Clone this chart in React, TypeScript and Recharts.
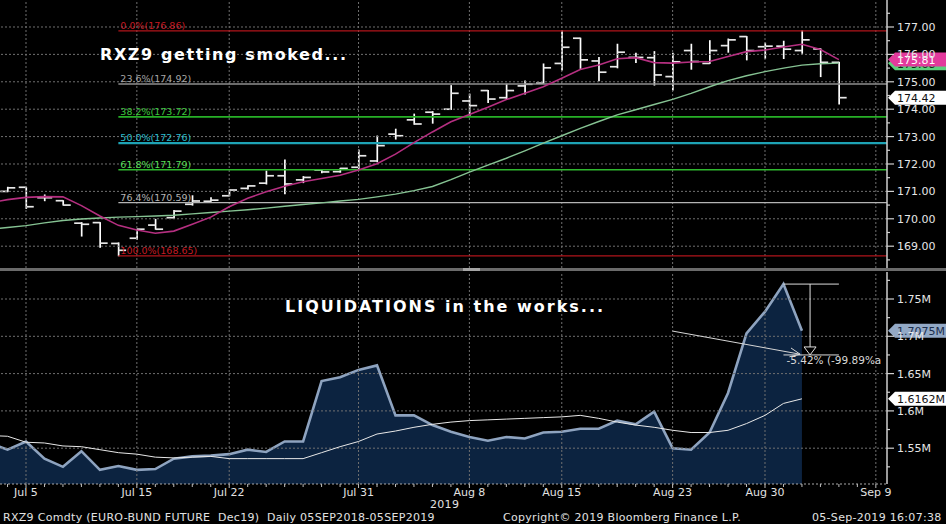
import React from 'react';
import { ComposedChart, Bar, Line, Area, XAxis, YAxis, ReferenceLine } from 'recharts';

// ---------- data ----------
const dates = [
  'Jul 3', 'Jul 4', 'Jul 5',
  'Jul 8', 'Jul 9', 'Jul 10', 'Jul 11', 'Jul 12',
  'Jul 15', 'Jul 16', 'Jul 17', 'Jul 18', 'Jul 19',
  'Jul 22', 'Jul 23', 'Jul 24', 'Jul 25', 'Jul 26',
  'Jul 29', 'Jul 30', 'Jul 31', 'Aug 1', 'Aug 2',
  'Aug 5', 'Aug 6', 'Aug 7', 'Aug 8', 'Aug 9',
  'Aug 12', 'Aug 13', 'Aug 14', 'Aug 15', 'Aug 16',
  'Aug 19', 'Aug 20', 'Aug 21', 'Aug 22', 'Aug 23',
  'Aug 26', 'Aug 27', 'Aug 28', 'Aug 29', 'Aug 30',
  'Sep 2', 'Sep 3', 'Sep 4', 'Sep 5', 'Sep 6',
  'Sep 9',
];

const openPx = [
  null, 171.00, 171.15,
  170.77, 170.66, 169.84, 169.86, 169.10,
  169.29, 169.77, 170.04, 170.53, 170.64,
  170.84, 171.11, 171.30, 171.57, 171.42,
  171.78, 171.72, 171.88, 172.11, 173.09,
  173.61, 173.89, 174.00, 174.30, 174.68,
  174.42, 174.85, 174.95, 175.67, 176.59,
  175.76, 175.55, 175.89, 175.88, 175.19,
  176.14, 175.67, 176.32, 176.65, 176.28,
  176.30, 176.14, 176.20, 175.71, null,
  null,
];
const highPx = [
  null, 171.15, 171.15,
  170.87, 170.66, 169.86, 169.86, 169.12,
  169.62, 169.98, 170.30, 170.84, 170.77,
  171.05, 171.21, 171.74, 172.15, 171.54,
  171.80, 171.84, 172.51, 173.02, 173.27,
  173.82, 173.91, 174.86, 174.55, 174.68,
  174.91, 175.03, 175.65, 176.86, 176.59,
  175.89, 176.37, 176.04, 176.10, 176.04,
  176.37, 176.50, 176.56, 176.65, 176.41,
  176.48, 176.86, 176.20, 175.71, null,
  null,
];
const lowPx = [
  null, 170.99, 170.38,
  170.66, 170.50, 169.37, 168.96, 168.65,
  169.25, 169.62, 170.02, 170.50, 170.64,
  170.84, 171.09, 171.27, 170.91, 171.32,
  171.68, 171.70, 171.84, 172.08, 172.91,
  173.45, 173.49, 173.99, 173.75, 174.24,
  174.37, 174.55, 174.95, 175.43, 175.49,
  175.04, 175.51, 175.70, 174.88, 174.70,
  175.46, 175.67, 176.08, 175.80, 175.86,
  175.85, 176.04, 175.19, 174.19, null,
  null,
];
const closePx = [
  null, 171.13, 170.44,
  170.77, 170.50, 169.80, 169.11, 168.85,
  169.62, 169.62, 170.28, 170.65, 170.68,
  171.05, 171.20, 171.57, 171.27, 171.51,
  171.71, 171.84, 172.30, 172.67, 173.03,
  173.46, 173.82, 174.58, 174.13, 174.37,
  174.68, 174.91, 175.51, 176.26, 175.80,
  175.35, 176.08, 175.89, 175.25, 175.73,
  175.74, 176.14, 176.53, 176.14, 176.30,
  176.19, 176.53, 175.71, 174.42, null,
  null,
];
const maFast = [
  170.58, 170.70, 170.78,
  170.81, 170.80, 170.48, 170.10, 169.76,
  169.59, 169.47, 169.55, 169.80, 170.06,
  170.44, 170.75, 170.99, 171.19, 171.35,
  171.47, 171.59, 171.78, 172.01, 172.36,
  172.78, 173.17, 173.54, 173.81, 174.07,
  174.35, 174.58, 174.82, 175.13, 175.45,
  175.61, 175.84, 175.88, 175.70, 175.68,
  175.72, 175.74, 175.92, 176.10, 176.16,
  176.27, 176.37, 176.18, 175.81, null,
  null,
];
const maSlow = [
  169.62, 169.68, 169.75,
  169.85, 169.94, 169.99, 170.03, 170.06,
  170.08, 170.10, 170.13, 170.18, 170.23,
  170.28, 170.33, 170.39, 170.46, 170.52,
  170.58, 170.65, 170.71, 170.80, 170.90,
  171.03, 171.18, 171.43, 171.70, 171.96,
  172.21, 172.48, 172.76, 173.03, 173.30,
  173.55, 173.79, 173.98, 174.17, 174.36,
  174.58, 174.82, 175.04, 175.22, 175.37,
  175.50, 175.61, 175.66, 175.68, null,
  null,
];
// open interest, millions
const openInt = [
  1.557, 1.548, 1.559,
  1.536, 1.525, 1.546, 1.521, 1.526,
  1.521, 1.522, 1.536, 1.539, 1.540,
  1.542, 1.548, 1.545, 1.559, 1.559,
  1.640, 1.645, 1.655, 1.661, 1.594,
  1.594, 1.581, 1.572, 1.565, 1.560,
  1.565, 1.563, 1.571, 1.572, 1.576,
  1.576, 1.587, 1.582, 1.599, 1.550,
  1.548, 1.571, 1.624, 1.704, 1.733,
  1.770, 1.7075, null, null, null,
  null,
];
const openIntAvg = [
  1.567, 1.566, 1.558,
  1.557, 1.553, 1.552, 1.548, 1.544,
  1.542, 1.538, 1.537, 1.538, 1.539,
  1.536, 1.536, 1.536, 1.536, 1.536,
  1.544, 1.552, 1.559, 1.569, 1.573,
  1.578, 1.582, 1.585, 1.587, 1.588,
  1.589, 1.590, 1.591, 1.592, 1.594,
  1.590, 1.585, 1.581, 1.578, 1.574,
  1.571, 1.571, 1.574, 1.583, 1.594,
  1.610, 1.6162, null, null, null,
  null,
];

const xTickLabels = ['Jul 5', 'Jul 15', 'Jul 22', 'Jul 31', 'Aug 8', 'Aug 15', 'Aug 23', 'Aug 30', 'Sep 9'];
const priceTicks = [168.5, 169, 169.5, 170, 170.5, 171, 171.5, 172, 172.5, 173, 173.5, 174, 174.5, 175, 175.5, 176, 176.5, 177, 177.5];
const priceGrid = [169, 170, 171, 172, 173, 174, 175, 176, 177];
const oiTicks = [1.525, 1.55, 1.575, 1.6, 1.625, 1.65, 1.675, 1.7, 1.725, 1.75, 1.775];
const oiGrid = [1.55, 1.6, 1.65, 1.7, 1.75];

const fibNames = ['0.0%', '23.6%', '38.2%', '50.0%', '61.8%', '76.4%', '100.0%'];
const fibValues = [176.86, 174.92, 173.72, 172.76, 171.79, 170.59, 168.65];
const fibStartDate = 'Jul 12';

// measured move annotation (open interest panel)
const moveFromDate = 'Sep 2';
const moveToDate = 'Sep 5';
const moveHigh = 1.770;
const moveLow = 1.675;
const moveMarkX = 44.44;
const moveText = '-5.42% (-99.89%a';
const trendStart = { date: 'Aug 23', v: 1.707 };
const trendEnd = { x: 43.9, v: 1.676 };

// ---------- styles ----------
const FONT = '"DejaVu Sans", Verdana, sans-serif';
const X_DOMAIN: [number, number] = [0.593, 48.604];
const PRICE_DOMAIN: [number, number] = [168.204, 177.985];
const OI_DOMAIN: [number, number] = [1.502, 1.7862];
const FIB_STYLE = [
  { line: '#b0151b', text: '#c41a22', w: 1.3 },
  { line: '#8e8e8e', text: '#a6a6a6', w: 1.3 },
  { line: '#27b027', text: '#3cc53c', w: 1.6 },
  { line: '#1ea3b5', text: '#2bbccc', w: 2.2 },
  { line: '#2fb82f', text: '#55dd55', w: 1.6 },
  { line: '#b4b4b4', text: '#b4b4b4', w: 1.3 },
  { line: '#b0151b', text: '#c41a22', w: 1.3 },
];
const GRID = { stroke: '#707070', strokeDasharray: '2 2', strokeWidth: 1 };
const FOOT = { color: '#e2e2e2', fontSize: 11, lineHeight: '13px', whiteSpace: 'pre' as const, letterSpacing: '0.3px' };

// ---------- rows ----------
const priceRows = dates.map((d, i) => ({
  x: i,
  date: d,
  open: openPx[i],
  high: highPx[i],
  low: lowPx[i],
  close: closePx[i],
  range: highPx[i] != null && lowPx[i] != null ? [lowPx[i], highPx[i]] : null,
  maFast: maFast[i],
  maSlow: maSlow[i],
}));
const oiRows = dates.map((d, i) => ({ x: i, date: d, oi: openInt[i], oiAvg: openIntAvg[i] }));
const xTicks = dates.map((_, i) => i).filter((i) => i >= 1);
const gridX = xTickLabels.map((l) => dates.indexOf(l));
const lastOf = (arr: (number | null)[]) => {
  for (let i = arr.length - 1; i >= 0; i--) if (arr[i] != null) return arr[i] as number;
  return 0;
};

// ---------- shapes ----------
const OhlcShape = (props: any) => {
  const { x, y, width, height, payload } = props;
  if (!payload || payload.high == null || payload.low == null) return null;
  const cx = x + width / 2;
  const top = Math.min(y, y + height);
  const h = Math.abs(height);
  const span = payload.high - payload.low;
  const py = (v: number) => (span > 0 ? top + ((payload.high - v) / span) * h : top);
  const yo = py(payload.open);
  const yc = py(payload.close);
  return (
    <g>
      <line x1={cx} x2={cx} y1={top - 0.5} y2={top + h + 0.5} stroke="#ffffff" strokeWidth={1.7} />
      <line x1={cx - 7.5} x2={cx} y1={yo} y2={yo} stroke="#e8e8e8" strokeWidth={1.7} />
      <line x1={cx} x2={cx + 7.5} y1={yc} y2={yc} stroke="#e8e8e8" strokeWidth={1.7} />
    </g>
  );
};

const PriceTick = (props: any) => {
  const { x, y, payload } = props;
  const v = Number(payload?.value);
  const major = Math.abs(v - Math.round(v)) < 1e-6;
  return (
    <g>
      <line x1={x} x2={x + (major ? 7 : 3)} y1={y} y2={y} stroke="#d0d0d0" strokeWidth={1.2} />
      {major && (
        <text x={x + 10} y={y + 4} fill="#e6e6e6" fontSize={11} fontFamily={FONT}>
          {v.toFixed(2)}
        </text>
      )}
    </g>
  );
};

const OiTick = (props: any) => {
  const { x, y, payload } = props;
  const v = Number(payload?.value);
  const major = Math.abs(v * 20 - Math.round(v * 20)) < 1e-6;
  return (
    <g>
      <line x1={x} x2={x + (major ? 7 : 3)} y1={y} y2={y} stroke="#d0d0d0" strokeWidth={1.2} />
      {major && (
        <text x={x + 10} y={y + 4} fill="#e6e6e6" fontSize={11} fontFamily={FONT}>
          {`${parseFloat(v.toFixed(3))}M`}
        </text>
      )}
    </g>
  );
};

const DateTick = (props: any) => {
  const { x, y, payload } = props;
  const idx = Math.round(Number(payload?.value));
  const d = dates[idx];
  const show = xTickLabels.includes(d);
  return (
    <g>
      <line x1={x} x2={x} y1={y} y2={y + (show ? 4 : 3)} stroke="#bdbdbd" strokeWidth={1} />
      {show && (
        <text x={x} y={y + 12} textAnchor="middle" fill="#e2e2e2" fontSize={11} fontFamily={FONT}>
          {d}
        </text>
      )}
    </g>
  );
};

const Tag = (props: any) => {
  const { viewBox, text, bg, fg } = props;
  if (!viewBox) return null;
  const x0 = viewBox.x + viewBox.width + 1;
  const y = viewBox.y;
  const pts = `${x0},${y} ${x0 + 7},${y - 7} ${x0 + 62},${y - 7} ${x0 + 62},${y + 7} ${x0 + 7},${y + 7}`;
  return (
    <g>
      <polygon points={pts} fill={bg} />
      <text x={x0 + 9} y={y + 4.5} fill={fg} fontSize={11} fontFamily={FONT}>
        {text}
      </text>
    </g>
  );
};

const FibLabel = (props: any) => {
  const { viewBox, text, color } = props;
  if (!viewBox) return null;
  return (
    <text x={viewBox.x + 2} y={viewBox.y - 2} fill={color} fontSize={9.5} fontFamily={FONT}>
      {text}
    </text>
  );
};

const MoveText = (props: any) => {
  const { viewBox, text } = props;
  if (!viewBox) return null;
  return (
    <text x={viewBox.x + 3} y={viewBox.y + 9} fill="#d8d8d8" fontSize={10.5} fontFamily={FONT}>
      {text}
    </text>
  );
};

const ArrowLine = (p: any) => {
  const { x1, y1, x2, y2 } = p;
  const ang = Math.atan2(y2 - y1, x2 - x1);
  const L = 11;
  const a1 = ang + Math.PI - 0.42;
  const a2 = ang + Math.PI + 0.42;
  return (
    <g stroke="#d6d6d6" strokeWidth={1} fill="none">
      <line x1={x1} y1={y1} x2={x2} y2={y2} />
      <line x1={x2} y1={y2} x2={x2 + L * Math.cos(a1)} y2={y2 + L * Math.sin(a1)} />
      <line x1={x2} y1={y2} x2={x2 + L * Math.cos(a2)} y2={y2 + L * Math.sin(a2)} />
    </g>
  );
};

const MeasureLine = (p: any) => {
  const { x1, y1, x2, y2 } = p;
  const top = Math.min(y1, y2);
  const bot = Math.max(y1, y2);
  return (
    <g stroke="#e0e0e0" strokeWidth={1} fill="none">
      <line x1={x1} y1={top} x2={x2} y2={bot - 8} />
      <polygon points={`${x2 - 6},${bot - 8} ${x2 + 6},${bot - 8} ${x2},${bot}`} />
    </g>
  );
};

// ---------- component ----------
export default function App() {
  const fibStart = dates.indexOf(fibStartDate);
  const fastLast = lastOf(maFast);
  const slowLast = lastOf(maSlow);
  const closeLast = lastOf(closePx);
  const oiLast = lastOf(openInt);
  const oiAvgLast = lastOf(openIntAvg);
  const mFrom = dates.indexOf(moveFromDate);
  const mTo = dates.indexOf(moveToDate);
  const tStart = dates.indexOf(trendStart.date);

  return (
    <div
      style={{
        position: 'absolute',
        left: 0,
        top: 0,
        width: 946,
        height: 524,
        background: '#000',
        overflow: 'hidden',
        fontFamily: FONT,
      }}
    >
      {/* price panel */}
      <div style={{ position: 'absolute', left: 0, top: 0 }}>
        <ComposedChart width={946} height={268} data={priceRows} margin={{ top: 0, right: 0, bottom: 0, left: 0 }}>
          <XAxis type="number" dataKey="x" domain={X_DOMAIN} allowDataOverflow hide />
          <YAxis
            type="number"
            orientation="right"
            width={59}
            domain={PRICE_DOMAIN}
            allowDataOverflow
            ticks={priceTicks}
            interval={0}
            tick={<PriceTick />}
            tickLine={false}
            tickSize={0}
            tickMargin={0}
            axisLine={{ stroke: '#cfcfcf', strokeWidth: 1.5 }}
          />
          {priceGrid.map((v) => (
            <ReferenceLine key={`pg${v}`} y={v} {...GRID} />
          ))}
          {gridX.map((i) => (
            <ReferenceLine key={`px${i}`} x={i} {...GRID} />
          ))}
          {fibValues.map((v, k) => (
            <ReferenceLine
              key={`fib${k}`}
              segment={[
                { x: fibStart, y: v },
                { x: X_DOMAIN[1], y: v },
              ]}
              stroke={FIB_STYLE[k].line}
              strokeWidth={FIB_STYLE[k].w}
              label={<FibLabel text={`${fibNames[k]}(${v.toFixed(2)})`} color={FIB_STYLE[k].text} />}
            />
          ))}
          <Line dataKey="maSlow" stroke="#86c393" strokeWidth={1.4} dot={false} activeDot={false} isAnimationActive={false} />
          <Line dataKey="maFast" stroke="#b52f80" strokeWidth={1.6} dot={false} activeDot={false} isAnimationActive={false} />
          <Bar dataKey="range" barSize={15} shape={(p: any) => <OhlcShape {...p} />} activeBar={false} isAnimationActive={false} />
          <ReferenceLine
            y={slowLast}
            stroke="none"
            label={<Tag text={slowLast.toFixed(2)} bg="#5ccf7c" fg="#0a2a12" />}
          />
          <ReferenceLine
            y={fastLast}
            stroke="none"
            label={<Tag text={fastLast.toFixed(2)} bg="#e23a9c" fg="#ffffff" />}
          />
          <ReferenceLine
            y={closeLast}
            stroke="none"
            label={<Tag text={closeLast.toFixed(2)} bg="#ffffff" fg="#111111" />}
          />
        </ComposedChart>
      </div>

      {/* panel separator */}
      <div style={{ position: 'absolute', left: 0, top: 268, width: 946, height: 3, background: '#6a6a6a' }} />
      <div style={{ position: 'absolute', left: 463, top: 268, width: 17, height: 3, background: '#a5a5a5' }} />

      {/* open interest panel */}
      <div style={{ position: 'absolute', left: 0, top: 272 }}>
        <ComposedChart width={946} height={252} data={oiRows} margin={{ top: 0, right: 0, bottom: 0, left: 0 }}>
          <XAxis
            type="number"
            dataKey="x"
            domain={X_DOMAIN}
            allowDataOverflow
            ticks={xTicks}
            interval={0}
            height={40}
            tick={<DateTick />}
            tickLine={false}
            tickSize={0}
            tickMargin={0}
            axisLine={{ stroke: '#a8a8a8', strokeDasharray: '2 2' }}
          />
          <YAxis
            type="number"
            orientation="right"
            width={59}
            domain={OI_DOMAIN}
            allowDataOverflow
            ticks={oiTicks}
            interval={0}
            tick={<OiTick />}
            tickLine={false}
            tickSize={0}
            tickMargin={0}
            axisLine={{ stroke: '#cfcfcf', strokeWidth: 1.5 }}
          />
          <Area
            dataKey="oi"
            type="linear"
            stroke="#8ea3bf"
            strokeWidth={2.6}
            fill="#0c2340"
            fillOpacity={1}
            baseValue="dataMin"
            dot={false}
            activeDot={false}
            isAnimationActive={false}
          />
          {oiGrid.map((v) => (
            <ReferenceLine key={`og${v}`} y={v} {...GRID} />
          ))}
          {gridX.map((i) => (
            <ReferenceLine key={`ox${i}`} x={i} {...GRID} />
          ))}
          <Line dataKey="oiAvg" stroke="#e8e8e8" strokeWidth={1} dot={false} activeDot={false} isAnimationActive={false} />
          <ReferenceLine
            segment={[
              { x: tStart, y: trendStart.v },
              { x: trendEnd.x, y: trendEnd.v },
            ]}
            shape={(p: any) => <ArrowLine {...p} />}
          />
          <ReferenceLine
            segment={[
              { x: mFrom, y: moveHigh },
              { x: mTo, y: moveHigh },
            ]}
            stroke="#dcdcdc"
            strokeWidth={1}
          />
          <ReferenceLine
            segment={[
              { x: moveMarkX, y: moveHigh },
              { x: moveMarkX, y: moveLow },
            ]}
            shape={(p: any) => <MeasureLine {...p} />}
          />
          <ReferenceLine
            segment={[
              { x: mFrom, y: moveLow },
              { x: mTo, y: moveLow },
            ]}
            stroke="#dcdcdc"
            strokeWidth={1}
            label={<MoveText text={moveText} />}
          />
          <ReferenceLine
            y={oiLast}
            stroke="none"
            label={<Tag text={`${oiLast.toFixed(4)}M`} bg="#93a9c6" fg="#1b2d4d" />}
          />
          <ReferenceLine
            y={oiAvgLast}
            stroke="none"
            label={<Tag text={`${oiAvgLast.toFixed(4)}M`} bg="#ffffff" fg="#111111" />}
          />
        </ComposedChart>
      </div>

      {/* titles */}
      <div
        style={{
          position: 'absolute',
          left: 100,
          top: 45,
          color: '#fff',
          fontWeight: 'bold',
          fontSize: 16,
          lineHeight: '19px',
          letterSpacing: '1.6px',
          whiteSpace: 'pre',
        }}
      >
        RXZ9 getting smoked...
      </div>
      <div
        style={{
          position: 'absolute',
          left: 285,
          top: 297,
          color: '#fff',
          fontWeight: 'bold',
          fontSize: 16,
          lineHeight: '19px',
          letterSpacing: '2px',
          whiteSpace: 'pre',
        }}
      >
        LIQUIDATIONS in the works...
      </div>

      {/* year + footer */}
      <div style={{ position: 'absolute', left: 430, top: 498, ...FOOT }}>2019</div>
      <div style={{ position: 'absolute', left: 3, top: 511, ...FOOT }}>
        {'RXZ9 Comdty (EURO-BUND FUTURE  Dec19)  Daily 05SEP2018-05SEP2019'}
      </div>
      <div style={{ position: 'absolute', left: 503, top: 511, ...FOOT }}>
        {'Copyright\u00a9 2019 Bloomberg Finance L.P.'}
      </div>
      <div style={{ position: 'absolute', left: 812, top: 511, ...FOOT }}>{'05-Sep-2019 16:07:38'}</div>
    </div>
  );
}
